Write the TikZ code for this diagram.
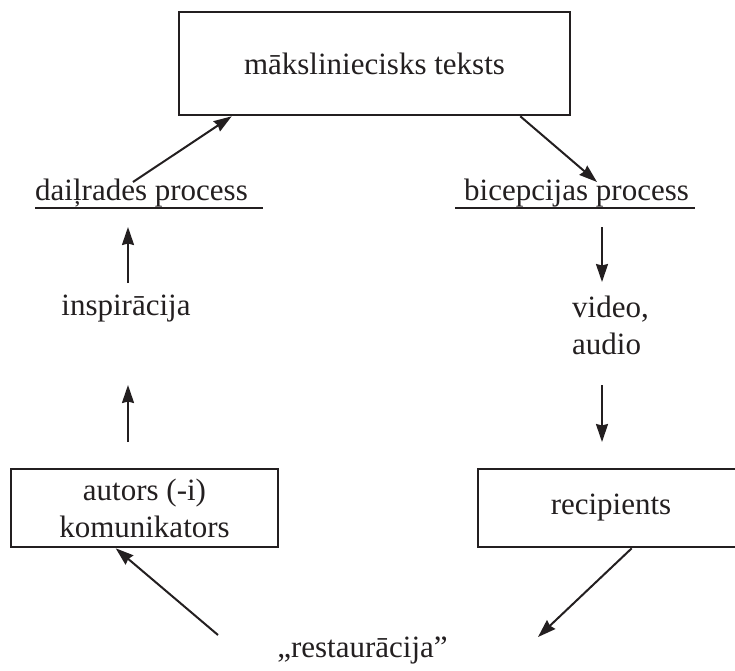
\documentclass[tikz,border=0pt]{standalone}
\usepackage{fontspec}
\setmainfont{Liberation Serif}
\usepackage{tikz}
\usetikzlibrary{arrows.meta,calc}
\definecolor{ink}{HTML}{231F20}

\begin{document}
\begin{tikzpicture}[x=1pt,y=-1pt,
    every node/.style={inner sep=0pt,text=ink,font=\fontsize{31}{37}\selectfont},
    box/.style={draw=ink,line width=2.6pt,align=center},
    arr/.style={draw=ink,line width=2pt,-{Stealth[length=18pt,width=12pt,inset=1.5pt]}},
    uline/.style={draw=ink,line width=1.6pt}]
          \clip (0,0) rectangle (735,670);
          \node[box,minimum width=391pt,minimum height=103pt] (mt) at (374.5,63.5){māksliniecisks teksts};
          \node[anchor=base west] (dp) at (35,200){daiļrades process};
          \node[anchor=base west] (bp) at (464,200){bicepcijas process};
          \draw[uline] ([yshift=-8pt]dp.base west) -- ++(228,0);
          \draw[uline] ([xshift=-9pt,yshift=-8pt]bp.base west) -- ++(240,0);
          \node[anchor=base] (insp) at (126,315){inspirācija};
          \node[anchor=west,align=left] (va) at (572,325.5){video,\\audio};
          \node[box,minimum width=267pt,minimum height=78pt] (lb) at (144.5,508){autors (-i)\\komunikators};
          \node[box,minimum width=266pt,minimum height=78pt] (rb) at (611,508){recipients};
          \node[anchor=base] (rs) at (362.5,657){„restaurācija”};
          \coordinate (d1) at (133,182);
          \coordinate (b1) at (597,182);
          \coordinate (i1) at (128,283);
          \coordinate (i2) at (128,227);
          \coordinate (i3) at (128,442);
          \coordinate (i4) at (128,385);
          \coordinate (v1) at (602,227);
          \coordinate (v2) at (602,282);
          \coordinate (v3) at (602,385);
          \coordinate (v4) at (602,442);
          \coordinate (r1) at (218,635);
          \coordinate (r2) at (538,637);
          \draw[arr] (d1) -- ([xshift=54pt]mt.south west);
          \draw[arr] ([xshift=-51pt]mt.south east) -- (b1);
          \draw[arr] (i1) -- (i2);
          \draw[arr] (i3) -- (i4);
          \draw[arr] (v1) -- (v2);
          \draw[arr] (v3) -- (v4);
          \draw[arr] (r1) -- ([xshift=106pt]lb.south west);
          \draw[arr] ([xshift=155pt]rb.south west) -- (r2);
        \end{tikzpicture}
\end{document}
